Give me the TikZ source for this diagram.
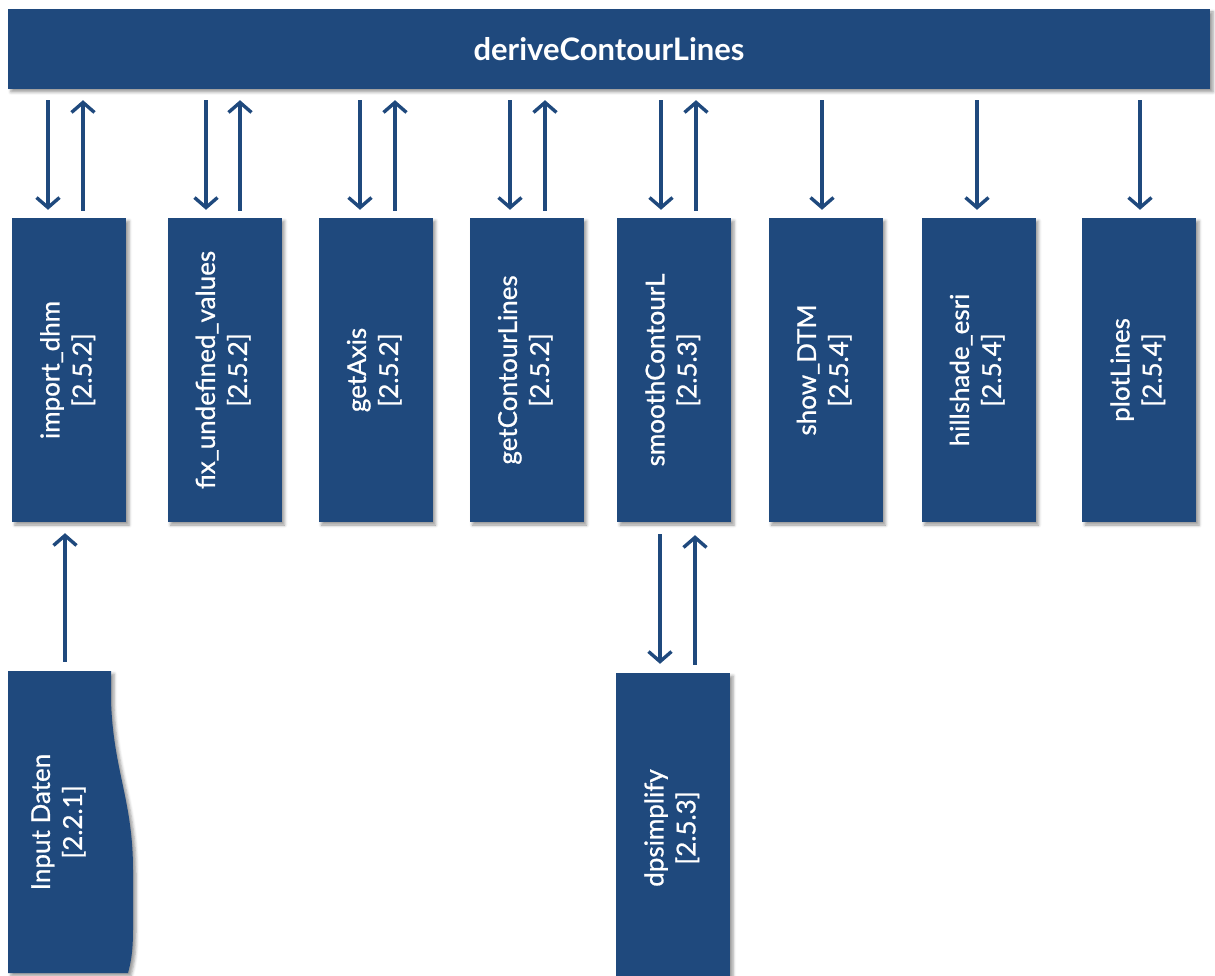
\documentclass[tikz,border=0pt]{standalone}
\usepackage{fontspec}
\setmainfont{Lato}
\newfontfamily\kmed{Lato}[UprightFeatures={FakeBold=0.8}]
\usepackage{graphicx}
\usetikzlibrary{arrows.meta,shadows.blur,positioning}
\definecolor{kblue}{RGB}{31,73,125}
\newcommand{\klabel}[2]{\rotatebox{90}{\begin{tabular}{@{}c@{}}#1\\{}[#2]\end{tabular}}}
\tikzset{
  kshadow/.style={blur shadow={shadow xshift=3pt,shadow yshift=-3pt,shadow blur radius=3pt,shadow opacity=40}},
  kbox/.style={fill=kblue,text=white,inner sep=0pt,minimum width=114pt,minimum height=304pt,kshadow,font=\kmed\fontsize{26}{32}\selectfont},
  kbar/.style={fill=kblue,text=white,inner sep=0pt,minimum width=1202pt,minimum height=80pt,kshadow,font=\fontsize{31}{34}\selectfont\bfseries},
  kflow/.style={draw=kblue,line width=3.4pt,-{Straight Barb[length=10pt,width=23pt]}}
}
\begin{document}
\begin{tikzpicture}[x=1pt,y=-1pt]
\useasboundingbox (0,0) rectangle (1215,976);
\node[kbar] (dcl) at (609,49) {deriveContourLines};
% function boxes
\foreach \i/\kx/\kname/\ksec in {1/69/import\_dhm/2.5.2,2/224.5/fix\_undefined\_values/2.5.2,3/375.5/getAxis/2.5.2,4/526.5/getContourLines/2.5.2,5/674/smoothContourL/2.5.3,6/825.5/show\_DTM/2.5.4,7/978.5/hillshade\_esri/2.5.4,8/1139/plotLines/2.5.4}{
  \node[kbox] (b\i) at (\kx,370) {\klabel{\kname}{\ksec}};
}
\node[kbox,minimum height=310pt] (dp) at (673,828) {\klabel{dpsimplify}{2.5.3}};
% input data
\path[fill=kblue,kshadow] (8,671) -- (111,671) -- (111,700) .. controls (113,770) and (133,800) .. (133,870) -- (133,930) .. controls (133,955) and (130,965) .. (128,973) -- (8,973) -- cycle;
\node[text=white,inner sep=0pt,minimum width=103pt,minimum height=302pt,font=\kmed\fontsize{26}{32}\selectfont] (inp) at (59.5,822) {\klabel{Input Daten}{2.2.1}};
% calls and returns
\foreach \i/\kd/\ku in {1/48/83,2/206/240,3/360/395,4/510/545,5/661/696}{
  \draw[kflow] ([yshift=-11pt]dcl.south -| \kd,0) -- ([yshift=8pt]b\i.north -| \kd,0);
  \draw[kflow] ([yshift=7pt]b\i.north -| \ku,0) -- ([yshift=-11pt]dcl.south -| \ku,0);
}
\foreach \i/\kd in {6/822,7/977,8/1140}{
  \draw[kflow] ([yshift=-11pt]dcl.south -| \kd,0) -- ([yshift=8pt]b\i.north -| \kd,0);
}
\draw[kflow] ([yshift=9pt]inp.north -| 65,0) -- ([yshift=-11pt]b1.south -| 65,0);
\draw[kflow] ([yshift=-12pt]b5.south -| 660,0) -- ([yshift=9pt]dp.north -| 660,0);
\draw[kflow] ([yshift=8pt]dp.north -| 695,0) -- ([yshift=-13pt]b5.south -| 695,0);
\end{tikzpicture}
\end{document}
